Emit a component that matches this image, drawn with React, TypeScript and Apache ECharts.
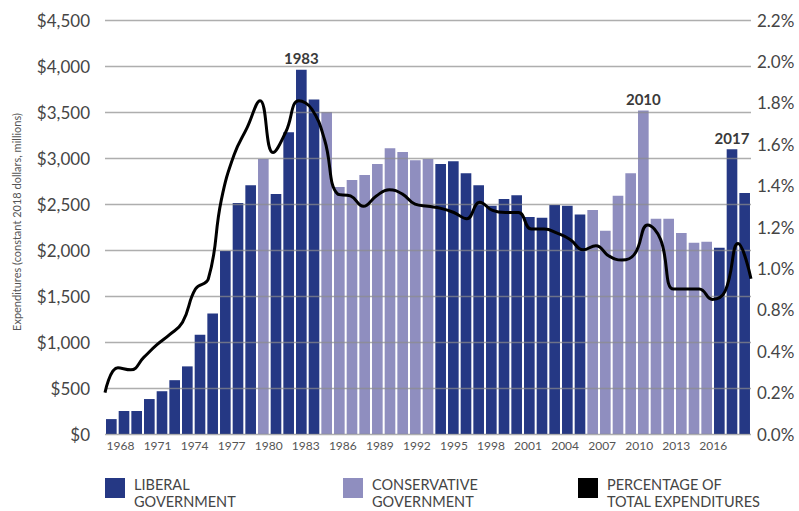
import React, { useEffect, useRef } from "react";
import * as echarts from "echarts";

const years = [
  "1968", "1969", "1970", "1971", "1972", "1973", "1974", "1975", "1976", "1977",
  "1978", "1979", "1980", "1981", "1982", "1983", "1984", "1985", "1986", "1987",
  "1988", "1989", "1990", "1991", "1992", "1993", "1994", "1995", "1996", "1997",
  "1998", "1999", "2000", "2001", "2002", "2003", "2004", "2005", "2006", "2007",
  "2008", "2009", "2010", "2011", "2012", "2013", "2014", "2015", "2016", "2017",
  "2018",
];

// expenditures, constant 2018 dollars (millions)
const expenditures = [
  162, 250, 250, 380, 465, 585, 735, 1080, 1310, 1990,
  2510, 2705, 2990, 2610, 3280, 3960, 3635, 3500, 2685, 2760,
  2815, 2935, 3105, 3065, 2975, 2990, 2935, 2965, 2835, 2705,
  2480, 2555, 2595, 2360, 2350, 2490, 2480, 2385, 2435, 2210,
  2590, 2835, 3515, 2340, 2340, 2185, 2080, 2090, 2025, 3095,
  2620,
];

// governing party: L = Liberal, C = Conservative
const party = [
  "L", "L", "L", "L", "L", "L", "L", "L", "L", "L",
  "L", "L", "C", "L", "L", "L", "L", "C", "C", "C",
  "C", "C", "C", "C", "C", "C", "L", "L", "L", "L",
  "L", "L", "L", "L", "L", "L", "L", "L", "C", "C",
  "C", "C", "C", "C", "C", "C", "C", "C", "L", "L",
  "L",
];

// percentage of total expenditures
const percentOfTotal = [
  0.40, 0.52, 0.51, 0.57, 0.63, 0.68, 0.74, 0.90, 0.95, 1.33,
  1.55, 1.68, 1.81, 1.56, 1.66, 1.81, 1.77, 1.62, 1.36, 1.35,
  1.30, 1.35, 1.38, 1.36, 1.31, 1.30, 1.29, 1.27, 1.24, 1.32,
  1.28, 1.27, 1.27, 1.19, 1.19, 1.17, 1.14, 1.09, 1.11, 1.06,
  1.04, 1.07, 1.21, 1.14, 0.90, 0.90, 0.90, 0.85, 0.89, 1.12,
  0.95,
];

const annotatedYears = ["1983", "2010", "2017"];

const xTickLabels = [
  "1968", "1971", "1974", "1977", "1980", "1983", "1986", "1989", "1992",
  "1995", "1998", "2001", "2004", "2007", "2010", "2013", "2016",
];

const pctTickLabels = [
  "0.0%", "0.2%", "0.4%", "0.8%", "1.0%", "1.2%", "1.4%", "1.6%", "1.8%", "2.0%", "2.2%",
];

const legendLabels = [
  "LIBERAL\nGOVERNMENT",
  "CONSERVATIVE\nGOVERNMENT",
  "PERCENTAGE OF\nTOTAL EXPENDITURES",
];

const LIBERAL = "#253884";
const CONSERVATIVE = "#8f8ebf";
const FONT = "Lato, 'Open Sans', sans-serif";
const TEXT = "#454545";

export default function App() {
  const ref = useRef<HTMLDivElement>(null);

  useEffect(() => {
    if (!ref.current) return;
    const chart = echarts.init(ref.current, undefined, { renderer: "svg" });

    const barData = expenditures.map((v, i) => {
      const item: any = {
        value: v,
        itemStyle: { color: party[i] === "L" ? LIBERAL : CONSERVATIVE },
      };
      if (annotatedYears.includes(years[i])) {
        item.label = {
          show: true,
          position: "top",
          distance: 4,
          formatter: years[i],
          fontFamily: FONT,
          fontSize: 15,
          fontWeight: "bold",
          color: "#3a3a3a",
        };
      }
      return item;
    });

    const legendColors = [LIBERAL, CONSERVATIVE, "#000000"];
    const legendX = [105, 343, 578];
    const legendGraphics: any[] = [];
    legendLabels.forEach((lbl, i) => {
      legendGraphics.push({
        type: "rect",
        left: legendX[i],
        top: 478,
        shape: { width: 20, height: 20 },
        style: { fill: legendColors[i] },
      });
      legendGraphics.push({
        type: "text",
        left: legendX[i] + 29,
        top: 476,
        style: {
          text: lbl,
          fontFamily: FONT,
          fontSize: 14.5,
          lineHeight: 17.3,
          fill: TEXT,
        },
      });
    });

    const option: any = {
      animation: false,
      grid: {
        left: 105,
        right: 48,
        top: 20,
        bottom: 77,
        containLabel: false,
        outerBoundsMode: "none",
      },
      xAxis: [
        {
          type: "category",
          data: years,
          boundaryGap: true,
          axisLine: { show: false },
          axisTick: { show: false },
          axisLabel: { show: false },
          splitLine: { show: false },
        },
        {
          type: "category",
          data: years,
          boundaryGap: false,
          show: false,
        },
        {
          type: "value",
          min: 1966.745,
          max: 2019.053,
          position: "bottom",
          axisLine: { show: false },
          axisTick: { show: false },
          splitLine: { show: false },
          axisLabel: {
            customValues: xTickLabels.map(Number),
            formatter: (v: number) => String(Math.round(v)),
            fontFamily: FONT,
            fontSize: 12,
            color: "#555",
            margin: 5,
          },
        },
      ],
      yAxis: [
        {
          type: "value",
          min: 0,
          max: 4500,
          interval: 500,
          z: 3,
          axisLine: { show: false },
          axisTick: { show: false },
          axisLabel: {
            formatter: (v: number) => "$" + v.toLocaleString("en-US"),
            fontFamily: FONT,
            fontSize: 17,
            color: TEXT,
            margin: 15,
          },
          splitLine: {
            show: true,
            lineStyle: { color: "rgba(140,140,140,0.7)", width: 1.3 },
          },
        },
        {
          type: "value",
          min: 0.2,
          max: 2.2,
          interval: 0.2,
          position: "right",
          axisLine: { show: false },
          axisTick: { show: false },
          splitLine: { show: false },
          axisLabel: {
            formatter: (v: number) => pctTickLabels[Math.round((v - 0.2) / 0.2)] ?? "",
            fontFamily: FONT,
            fontSize: 17,
            color: TEXT,
            margin: 6,
          },
        },
      ],
      series: [
        {
          type: "bar",
          name: "Expenditures",
          xAxisIndex: 0,
          yAxisIndex: 0,
          data: barData,
          barCategoryGap: "16%",
          z: 2,
        },
        {
          type: "line",
          name: "Percentage of total expenditures",
          xAxisIndex: 1,
          yAxisIndex: 1,
          data: percentOfTotal,
          smooth: 0.45,
          showSymbol: false,
          symbol: "none",
          lineStyle: { color: "#000", width: 3 },
          z: 5,
        },
      ],
      graphic: [
        {
          type: "text",
          x: 16.5,
          y: 222,
          rotation: Math.PI / 2,
          style: {
            text: "Expenditures (constant 2018 dollars, millions)",
            fontFamily: FONT,
            fontSize: 11,
            fill: "#555",
            align: "center",
            verticalAlign: "middle",
          },
        },
        ...legendGraphics,
      ],
    };

    chart.setOption(option);
    return () => chart.dispose();
  }, []);

  return (
    <div
      ref={ref}
      style={{ position: "absolute", left: 0, top: 0, width: 799, height: 511, background: "#fff" }}
    />
  );
}
